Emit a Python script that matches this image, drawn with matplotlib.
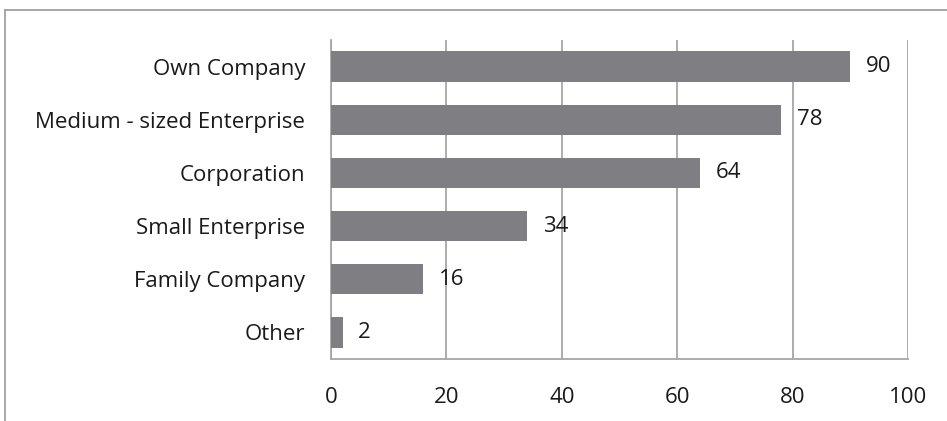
import matplotlib
matplotlib.use("Agg")
import matplotlib.pyplot as plt
from matplotlib.lines import Line2D

categories = ["Own Company", "Medium - sized Enterprise", "Corporation",
              "Small Enterprise", "Family Company", "Other"]
values = [90, 78, 64, 34, 16, 2]
xticks = [0, 20, 40, 60, 80, 100]

plt.rcParams['font.family'] = ['Open Sans', 'DejaVu Sans']

FS = 16
W, H = 947, 421
fig = plt.figure(figsize=(W / 100, H / 100), dpi=100)
ax = fig.add_axes([331 / W, 1 - 359 / H, (908 - 331) / W, (359 - 40) / H])

pos = list(range(len(categories)))[::-1]
ax.barh(pos, values, height=0.57, color="#7f7f83", zorder=3)
for p, v in zip(pos, values):
    ax.text(v + 2.7, p, str(v), va="center", ha="left", fontsize=FS, color="#1a1a1a", zorder=4)

ax.set_xlim(0, 100)
ax.set_ylim(-0.5, len(categories) - 0.5)
ax.set_xticks(xticks)
ax.set_xticklabels([str(t) for t in xticks])
ax.set_yticks(pos)
ax.set_yticklabels(categories)
ax.tick_params(axis="both", length=0, labelsize=FS, colors="#1a1a1a")
ax.tick_params(axis="x", pad=20)
ax.tick_params(axis="y", pad=18.5)
ax.xaxis.grid(True, color="#a6a6a6", linewidth=1.3, zorder=0)
ax.spines["top"].set_visible(False)
ax.spines["right"].set_visible(False)
ax.spines["left"].set_color("#a6a6a6")
ax.spines["bottom"].set_color("#a6a6a6")
ax.spines["left"].set_linewidth(1.3)
ax.spines["bottom"].set_linewidth(1.3)

# outer chart border (left and top visible)
fig.add_artist(Line2D([5 / W, 1.0], [1 - 10 / H, 1 - 10 / H], transform=fig.transFigure,
                      color="#a0a0a0", linewidth=1.3))
fig.add_artist(Line2D([5 / W, 5 / W], [0, 1 - 10 / H], transform=fig.transFigure,
                      color="#a0a0a0", linewidth=1.3))

fig.savefig("out.png", dpi=100)
